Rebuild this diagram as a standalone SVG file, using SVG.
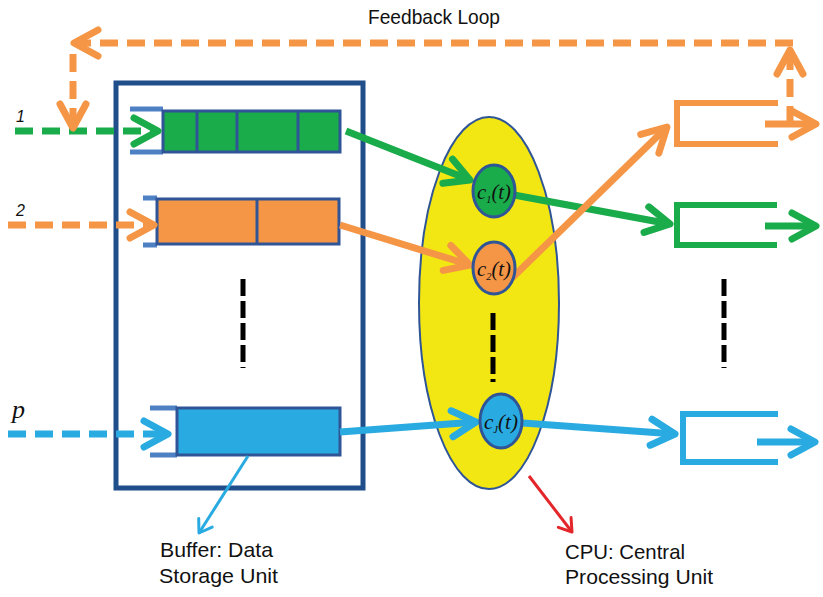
<svg xmlns="http://www.w3.org/2000/svg" width="823" height="597" viewBox="0 0 823 597">
<style>
.lbl{font-family:"Liberation Sans","DejaVu Sans",sans-serif;font-size:21px;fill:#111}
.num{font-family:"Liberation Sans","DejaVu Sans",sans-serif;font-size:16px;font-style:italic;fill:#111}
.ct{font-family:"Liberation Serif","DejaVu Serif",serif;font-style:italic;font-size:22px;fill:#111}
.qb{stroke:#2f5597;stroke-width:3}
.br{fill:none;stroke:#4e81c4;stroke-width:5}
.g{stroke:#1aab4b}.o{stroke:#f59646}.b{stroke:#29abe2}
.thick{fill:none;stroke-width:7}
.dash{stroke-dasharray:18 9}
.blk{stroke:#000;stroke-width:5;stroke-dasharray:17 5;fill:none}
</style>
<defs>
<marker id="mg" markerUnits="userSpaceOnUse" markerWidth="40" markerHeight="40" overflow="visible" orient="auto"><path d="M-24,-13 L0,0 L-24,13" fill="none" stroke="#1aab4b" stroke-width="7" stroke-linecap="round" stroke-linejoin="round"/></marker>
<marker id="mo" markerUnits="userSpaceOnUse" markerWidth="40" markerHeight="40" overflow="visible" orient="auto"><path d="M-24,-13 L0,0 L-24,13" fill="none" stroke="#f59646" stroke-width="7" stroke-linecap="round" stroke-linejoin="round"/></marker>
<marker id="mb" markerUnits="userSpaceOnUse" markerWidth="40" markerHeight="40" overflow="visible" orient="auto"><path d="M-24,-13 L0,0 L-24,13" fill="none" stroke="#29abe2" stroke-width="7" stroke-linecap="round" stroke-linejoin="round"/></marker>
<marker id="mbt" markerUnits="userSpaceOnUse" markerWidth="30" markerHeight="30" overflow="visible" orient="auto"><path d="M-12,-8 L0,0 L-12,8" fill="none" stroke="#29abe2" stroke-width="3" stroke-linecap="round" stroke-linejoin="round"/></marker>
<marker id="mr" markerUnits="userSpaceOnUse" markerWidth="30" markerHeight="30" overflow="visible" orient="auto"><path d="M-12,-8 L0,0 L-12,8" fill="none" stroke="#e3262a" stroke-width="3" stroke-linecap="round" stroke-linejoin="round"/></marker>
</defs>
<rect width="823" height="597" fill="#fff"/>

<g id="buffer">
<rect x="116" y="83" width="247" height="405" fill="none" stroke="#1f4e8a" stroke-width="5"/>
</g>

<g id="queue1">
<polyline class="br" points="130,109 163,109"/>
<polyline class="br" points="130,152 163,152"/>
<rect class="qb" x="163" y="111" width="177" height="41" fill="#1aab4b"/>
<line class="qb" x1="197" y1="111" x2="197" y2="152"/>
<line class="qb" x1="237" y1="111" x2="237" y2="152"/>
<line class="qb" x1="298" y1="111" x2="298" y2="152"/>
</g>

<g id="queue2">
<polyline class="br" points="143,198 157,198"/>
<polyline class="br" points="143,245 157,245"/>
<rect class="qb" x="157" y="199" width="182" height="45" fill="#f59646"/>
<line class="qb" x1="257" y1="199" x2="257" y2="244"/>
</g>

<g id="queueP">
<polyline class="br" points="150,408 177,408"/>
<polyline class="br" points="150,455 177,455"/>
<rect class="qb" x="177" y="408" width="163" height="47" fill="#29abe2"/>
</g>

<g id="cpu">
<ellipse cx="489" cy="303" rx="70" ry="186" fill="#f3e713" stroke="#2f5597" stroke-width="2"/>
</g>

<g id="connectors">
<line class="thick g dash" x1="15" y1="131" x2="158" y2="131" marker-end="url(#mg)"/>
<line class="thick o dash" x1="8" y1="225" x2="154" y2="225" marker-end="url(#mo)"/>
<line class="thick b dash" x1="8" y1="434" x2="168" y2="434" stroke-width="8" marker-end="url(#mb)"/>

<line class="thick g" x1="346" y1="131" x2="470" y2="180" marker-end="url(#mg)"/>
<line class="thick o" x1="340" y1="225" x2="470" y2="265" marker-end="url(#mo)"/>
<line class="thick b" x1="340" y1="432" x2="476" y2="422" marker-end="url(#mb)"/>

<line class="thick g" x1="514" y1="195" x2="670" y2="224" marker-end="url(#mg)"/>
<line class="thick o" x1="512" y1="278" x2="667" y2="127" marker-end="url(#mo)"/>
<line class="thick b" x1="523" y1="423" x2="675" y2="434" marker-end="url(#mb)"/>

<line class="thick g" x1="765" y1="226" x2="816" y2="226" stroke-width="6" marker-end="url(#mg)"/>
<line class="thick o" x1="765" y1="124" x2="816" y2="124" stroke-width="6" marker-end="url(#mo)"/>
<line class="thick b" x1="757" y1="442" x2="815" y2="442" stroke-width="6" marker-end="url(#mb)"/>

<line class="thick o dash" x1="790" y1="124" x2="790" y2="50" stroke-width="6" marker-end="url(#mo)"/>
<line class="thick o dash" x1="793" y1="43" x2="74" y2="43" stroke-width="6" marker-end="url(#mo)"/>
<line class="thick o dash" x1="73" y1="54" x2="73" y2="128" stroke-width="6" marker-end="url(#mo)"/>

<line x1="248" y1="456" x2="199" y2="533" stroke="#29abe2" stroke-width="3" marker-end="url(#mbt)"/>
<line x1="529" y1="476" x2="572" y2="532" stroke="#e3262a" stroke-width="3" marker-end="url(#mr)"/>

<line class="blk" x1="243" y1="279" x2="243" y2="368"/>
<line class="blk" x1="493" y1="313" x2="493" y2="382"/>
<line class="blk" x1="724" y1="279" x2="724" y2="368"/>
</g>

<g id="c1">
<ellipse cx="494" cy="191" rx="21" ry="26" fill="#1aab4b" stroke="#2f5597" stroke-width="3"/>
<text class="ct" x="477" y="199" textLength="34" lengthAdjust="spacingAndGlyphs">c<tspan dy="4" font-size="11">1</tspan><tspan dy="-4">(t)</tspan></text>
</g>
<g id="c2">
<ellipse cx="494" cy="268" rx="21" ry="26" fill="#f59646" stroke="#2f5597" stroke-width="3"/>
<text class="ct" x="477" y="276" textLength="34" lengthAdjust="spacingAndGlyphs">c<tspan dy="4" font-size="11">2</tspan><tspan dy="-4">(t)</tspan></text>
</g>
<g id="cj">
<ellipse cx="501" cy="421" rx="21" ry="27" fill="#29abe2" stroke="#2f5597" stroke-width="3"/>
<text class="ct" x="484" y="429" textLength="34" lengthAdjust="spacingAndGlyphs">c<tspan dy="4" font-size="11">J</tspan><tspan dy="-4">(t)</tspan></text>
</g>

<g id="out1">
<polyline points="778,103 677,103 677,144 778,144" fill="none" stroke="#f59646" stroke-width="6"/>
</g>
<g id="out2">
<polyline points="777,205 677,205 677,245 777,245" fill="none" stroke="#1aab4b" stroke-width="6"/>
</g>
<g id="outP">
<polyline points="778,414 683,414 683,462 778,462" fill="none" stroke="#29abe2" stroke-width="6"/>
</g>

<g id="labels">
<text class="lbl" x="368" y="24" textLength="132" lengthAdjust="spacingAndGlyphs">Feedback Loop</text>
<text class="num" x="16" y="122">1</text>
<text class="num" x="16" y="216">2</text>
<text x="12" y="418" font-family="Liberation Serif,serif" font-style="italic" font-size="26" fill="#111">p</text>
<text class="lbl" x="160" y="557" textLength="113" lengthAdjust="spacingAndGlyphs">Buffer: Data</text>
<text class="lbl" x="159" y="583" textLength="119" lengthAdjust="spacingAndGlyphs">Storage Unit</text>
<text class="lbl" x="565" y="559" textLength="120" lengthAdjust="spacingAndGlyphs">CPU: Central</text>
<text class="lbl" x="565" y="584" textLength="148" lengthAdjust="spacingAndGlyphs">Processing Unit</text>
</g>
</svg>
